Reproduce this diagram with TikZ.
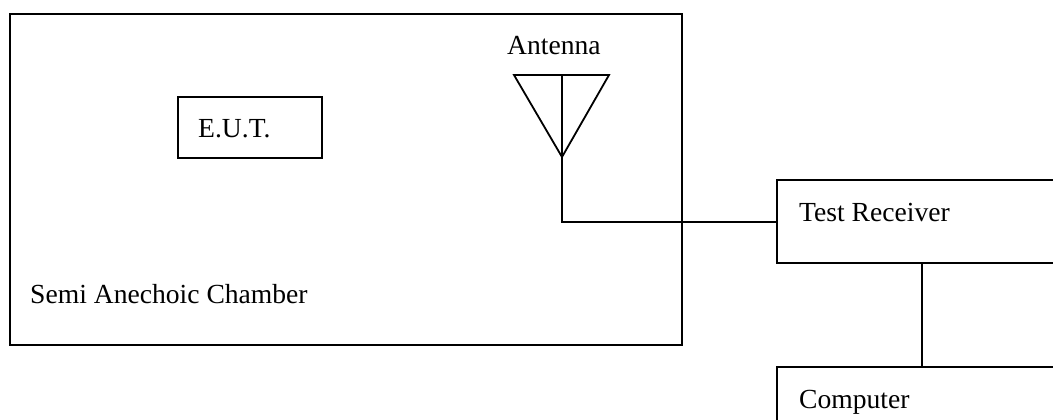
\documentclass[tikz,border=0pt]{standalone}
\usepackage{fontspec}
\setmainfont{Liberation Serif}
\begin{document}
\begin{tikzpicture}[x=1pt,y=-1pt,
  line/.style={line width=1.8pt,black},
  lbl/.style={anchor=base west,inner sep=0pt,font=\fontsize{27.6}{32}\selectfont}]
\useasboundingbox (0,0) rectangle (1053,420);
\clip (0,0) rectangle (1053,420);
% chamber
\draw[line] (10,14) rectangle (682,345);
\node[lbl] (chamberlbl) at (30,303) {Semi Anechoic Chamber};
% EUT
\draw[line] (178,97) rectangle (322,158);
\node[lbl] (eut) at (198,137) {E.U.T.};
% antenna
\node[lbl] (antlbl) at (507,55) {Antenna};
\coordinate (tl) at (514,75);
\coordinate (tr) at (609,75);
\coordinate (apex) at (562,157);
\coordinate (top) at (562,75);
\draw[line,line join=miter] (tl) -- (tr) -- (apex) -- cycle;
\draw[line] (top) -- (apex);
% test receiver
\draw[line] (1070,180) -- (777,180) -- (777,263) -- (1070,263);
\coordinate (trleft) at (777,222);
\node[lbl] (trlbl) at (799,221) {Test Receiver};
\coordinate (trbottom) at (922,263);
% computer
\draw[line] (1070,367) -- (777,367) -- (777,430);
\coordinate (comptop) at (922,367);
\node[lbl] (comp) at (799,408) {Computer};
% connectors
\draw[line] (apex) |- (trleft);
\draw[line] (trbottom) -- (comptop);
\end{tikzpicture}
\end{document}
